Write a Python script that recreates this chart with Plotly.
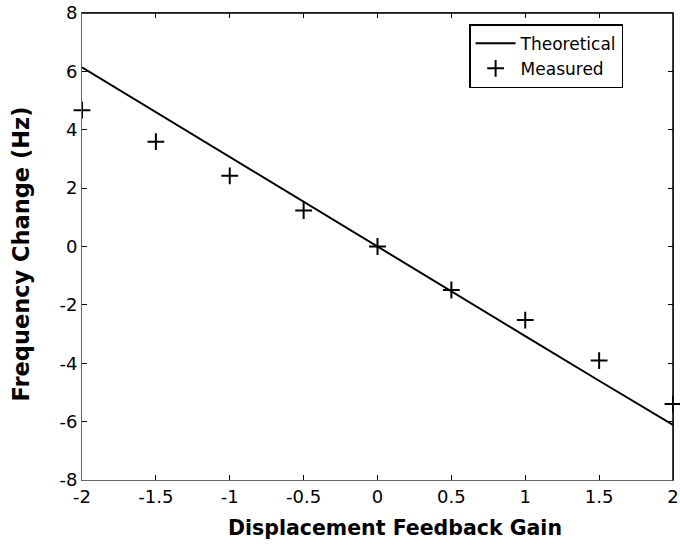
import plotly.graph_objects as go

gain_theory = [-2.0, -1.5, -1.0, -0.5, 0.0, 0.5, 1.0, 1.5, 2.0]
freq_theory = [6.14, 4.60, 3.07, 1.53, 0.0, -1.53, -3.07, -4.60, -6.11]

gain_meas = [-2.0, -1.5, -1.0, -0.5, 0.0, 0.5, 1.0, 1.5, 2.0]
freq_meas = [4.67, 3.59, 2.42, 1.23, 0.0, -1.49, -2.52, -3.91, -5.40]

x_ticks = [-2, -1.5, -1, -0.5, 0, 0.5, 1, 1.5, 2]
x_labels = ["-2", "-1.5", "-1", "-0.5", "0", "0.5", "1", "1.5", "2"]
y_ticks = [-8, -6, -4, -2, 0, 2, 4, 6, 8]
y_labels = ["-8", "-6", "-4", "-2", "0", "2", "4", "6", "8"]

x_title = "Displacement Feedback Gain"
y_title = "Frequency Change (Hz)"

FONT = "DejaVu Sans, Liberation Sans, Arial, sans-serif"

fig = go.Figure()
fig.add_trace(go.Scatter(x=gain_theory, y=freq_theory, mode="lines", name="Theoretical",
                         line=dict(color="black", width=2)))
fig.add_trace(go.Scatter(x=gain_meas, y=freq_meas, mode="markers", name="Measured",
                         cliponaxis=False,
                         marker=dict(symbol="cross-thin", size=12, line=dict(color="black", width=2))))

fig.update_layout(
    width=680, height=546,
    margin=dict(l=82, r=7, t=13, b=66),
    paper_bgcolor="white", plot_bgcolor="white",
    font=dict(family=FONT, size=18, color="black"),
    showlegend=True,
    legend=dict(x=0.655, y=0.976, xanchor="left", yanchor="top",
                bordercolor="black", borderwidth=1.5, bgcolor="white",
                font=dict(size=17), tracegroupgap=0, itemwidth=40),
    annotations=[
        dict(text="<b>" + x_title + "</b>", xref="paper", yref="paper", x=0.5, y=0,
             xanchor="center", yanchor="middle", xshift=17, yshift=-48,
             showarrow=False, font=dict(size=20.5)),
        dict(text="<b>" + y_title + "</b>", xref="paper", yref="paper", x=0, y=0.5,
             xanchor="center", yanchor="middle", xshift=-62, yshift=-8,
             textangle=-90, showarrow=False, font=dict(size=22.5)),
    ],
    shapes=[
        dict(type="line", xref="paper", yref="paper", x0=0, x1=1, y0=1, y1=1,
             line=dict(color="black", width=1.5)),
        dict(type="line", xref="paper", yref="paper", x0=1, x1=1, y0=0, y1=1,
             line=dict(color="black", width=1.5)),
    ],
)
fig.update_xaxes(range=[-2, 2], tickvals=x_ticks, ticktext=x_labels, automargin=False,
                 ticks="inside", ticklen=5, tickcolor="black", showgrid=False, zeroline=False,
                 showline=True, linecolor="#666666", linewidth=1, mirror="ticks",
                 ticklabeloverflow="allow", tickfont=dict(size=18))
fig.update_yaxes(range=[-8, 8], tickvals=y_ticks, ticktext=y_labels, automargin=False,
                 ticks="inside", ticklen=5, tickcolor="black", showgrid=False, zeroline=False,
                 showline=True, linecolor="#666666", linewidth=1, mirror="ticks",
                 ticklabeloverflow="allow", tickfont=dict(size=18))

fig.write_html("out.html", config={"displayModeBar": False},
               post_script="document.body.style.margin='0';document.body.style.overflow='hidden';")
